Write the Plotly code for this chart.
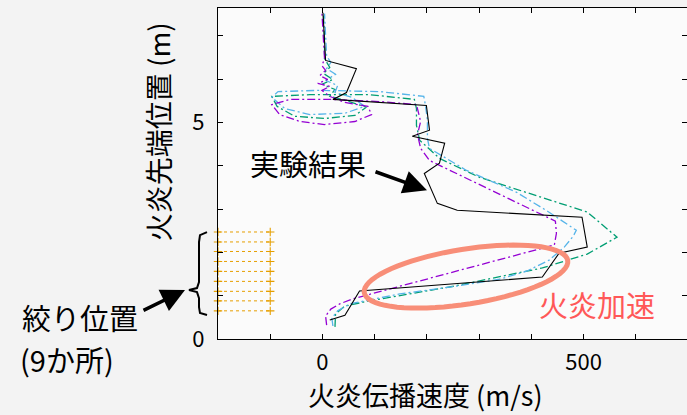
import numpy as np
import plotly.graph_objects as go

# ---------------- data (velocity m/s, position m) ----------------
exp_v = [1, 6, 65, 46, 20, 199, 205, 172, 234, 224, 195, 220, 258, 497, 507, 453, 421, 71, 43, 14]
exp_y = [7.53, 6.43, 6.24, 5.69, 5.53, 5.39, 4.82, 4.68, 4.52, 4.06, 3.82, 3.13, 2.97, 2.81, 2.12, 1.98, 1.43, 1.11, 0.55, 0.44]

purple_v = [8, 6, 16, 33, 56, 444, 448, 446, 205, 188, 182, 188, 180, 110, 14, -62, -97, -82, -43, 4, 62, 94, 87, 43,
            14, -1, 14, -9, 10, -5, 6, -1, 4, 2, 1, -1]
purple_y = [0.32, 0.53, 0.69, 0.81, 0.92, 2.17, 2.44, 2.72, 4.12, 4.40, 4.72, 5.02, 5.41, 5.48, 5.53, 5.53, 5.41, 5.18,
            5.02, 4.95, 5.02, 5.18, 5.37, 5.46, 5.60, 5.74, 5.83, 5.90, 5.99, 6.08, 6.20, 6.31, 6.47, 6.89, 7.35, 7.53]

blue_v = [20, 18, 29, 52, 148, 257, 339, 392, 434, 463, 480, 486, 431, 371, 276, 224, 205, 201, 201, 197, 194, 110, -5,
          -85, -97, -72, -24, 43, 81, 56, 24, 29, 6, 25, 8, 16, 8, 6, 4]
blue_y = [0.30, 0.48, 0.65, 0.81, 1.04, 1.22, 1.38, 1.57, 1.82, 2.12, 2.37, 2.51, 2.95, 3.39, 3.89, 4.26, 4.40, 4.63,
          5.05, 5.41, 5.60, 5.71, 5.74, 5.71, 5.58, 5.32, 5.18, 5.21, 5.37, 5.58, 5.69, 5.85, 5.97, 6.11, 6.24, 6.38,
          6.54, 7.00, 7.51]

green_v = [24, 25, 43, 90, 243, 421, 507, 564, 507, 415, 301, 224, 186, 180, 180, 176, 90, -24, -97, -87, -53, 4, 62,
           84, 43, 14, 24, -1, 20, 2, 14, 4, 4, 2]
green_y = [0.28, 0.58, 0.76, 0.88, 1.20, 1.64, 1.96, 2.35, 2.93, 3.29, 3.73, 4.17, 4.59, 4.93, 5.32, 5.53, 5.64, 5.64,
           5.60, 5.37, 5.14, 5.09, 5.16, 5.35, 5.51, 5.60, 5.76, 5.88, 5.99, 6.13, 6.27, 6.47, 6.89, 7.46]

# throttle (orifice) positions, 9 places
orifice_y = [0.65, 0.88, 1.10, 1.33, 1.56, 1.79, 2.02, 2.24, 2.47]
orifice_v = [-200, -100]

x_ticks = [-200, -100, 0, 100, 200, 300, 400, 500, 600, 700]
x_labels = ["", "", "0", "", "", "", "", "500", "", ""]
y_ticks = [0, 1, 2, 3, 4, 5, 6, 7]
y_labels = ["0", "", "", "", "", "5", "", ""]

# ---------------- layout geometry ----------------
WIDTH, HEIGHT = 687, 415
L, R, T, B = 218, 0, 7.5, 76
PW = WIDTH - L - R
PH = HEIGHT - T - B
FONT = "Noto Sans CJK JP, Noto Sans, sans-serif"


def paper(px, py):
    return (px - L) / PW, (HEIGHT - B - py) / PH


fig = go.Figure()

# orifice lines
ox, oy = [], []
for yy in orifice_y:
    ox += orifice_v + [None]
    oy += [yy, yy, None]
fig.add_trace(go.Scatter(x=ox, y=oy, mode="lines+markers",
                         line=dict(color="#E69F00", width=1, dash="3px,3px"),
                         marker=dict(symbol="cross-thin", size=6, line=dict(color="#E69F00", width=1.1)),
                         showlegend=False, cliponaxis=False))

dd = "8px,3px,2px,3px"
fig.add_trace(go.Scatter(x=green_v, y=green_y, mode="lines",
                         line=dict(color="#009E73", width=1.3, dash=dd), showlegend=False))
fig.add_trace(go.Scatter(x=blue_v, y=blue_y, mode="lines",
                         line=dict(color="#56B4E9", width=1.3, dash=dd), showlegend=False))
fig.add_trace(go.Scatter(x=purple_v, y=purple_y, mode="lines",
                         line=dict(color="#9400D3", width=1.3, dash=dd), showlegend=False))
fig.add_trace(go.Scatter(x=exp_v, y=exp_y, mode="lines",
                         line=dict(color="#000000", width=1.1), showlegend=False))

shapes = []
# highlighted ellipse (flame acceleration)
cx, cy, a, b, ang = 466, 276.5, 103, 27.5, np.deg2rad(9)
t = np.linspace(0, 2 * np.pi, 73)
ex = cx + a * np.cos(t) * np.cos(ang) + b * np.sin(t) * np.sin(ang)
ey = cy - a * np.cos(t) * np.sin(ang) + b * np.sin(t) * np.cos(ang)
pts = [paper(px, py) for px, py in zip(ex, ey)]
path = "M " + " L ".join(f"{p[0]:.5f},{p[1]:.5f}" for p in pts) + " Z"
shapes.append(dict(type="path", xref="paper", yref="paper", path=path,
                   line=dict(color="#F88E78", width=5)))

# brace
bp = [(207, 232), (200, 235), (199, 242), (199, 282), (197, 288), (189, 290), (197, 292), (199, 298),
      (199, 307), (200, 313), (207, 315)]
bpp = [paper(px, py) for px, py in bp]
shapes.append(dict(type="path", xref="paper", yref="paper",
                   path="M " + " L ".join(f"{p[0]:.5f},{p[1]:.5f}" for p in bpp),
                   line=dict(color="#000000", width=2)))

ann = []


def text(px, py, s, size, color="#000000", xanchor="center", angle=0):
    x, y = paper(px, py)
    ann.append(dict(x=x, y=y, xref="paper", yref="paper", text=s, showarrow=False,
                    xanchor=xanchor, yanchor="middle", textangle=angle,
                    font=dict(family=FONT, size=size, color=color)))


def arrow(tip, tail):
    x, y = paper(*tip)
    ann.append(dict(x=x, y=y, xref="paper", yref="paper", text="", showarrow=True,
                    ax=tail[0] - tip[0], ay=tail[1] - tip[1], axref="pixel", ayref="pixel",
                    arrowhead=2, arrowsize=1.35, arrowwidth=3.5, arrowcolor="#000000"))


text(425, 395, "火炎伝播速度 (m/s)", 27)
text(158, 132, "火炎先端位置 (m)", 28, angle=-90)
text(308, 163, "実験結果", 29)
text(20, 317, "絞り位置", 29, xanchor="left")
text(18, 359, "(9か所)", 29, xanchor="left")
text(597, 304, "火炎加速", 29, color="#FF5858")
arrow((427, 190), (374, 171))
arrow((185, 290), (142, 311))

fig.update_layout(
    width=WIDTH, height=HEIGHT,
    margin=dict(l=L, r=R, t=T, b=B),
    paper_bgcolor="#F3F3F3", plot_bgcolor="#FBFBFB",
    shapes=shapes, annotations=ann,
    showlegend=False,
)
fig.update_xaxes(range=[-200, 698], tickvals=x_ticks, ticktext=x_labels, ticks="inside", ticklen=5,
                 tickcolor="#000", showline=True, linecolor="#000", linewidth=1.2, mirror="ticks",
                 showgrid=False, zeroline=False, ticklabelstandoff=3,
                 tickfont=dict(family=FONT, size=22, color="#000"))
fig.update_yaxes(range=[0, 7.64], tickvals=y_ticks, ticktext=y_labels, ticks="inside", ticklen=5,
                 tickcolor="#000", showline=True, linecolor="#000", linewidth=1.2, mirror="ticks",
                 showgrid=False, zeroline=False, ticklabelstandoff=8,
                 tickfont=dict(family=FONT, size=22, color="#000"))

fig.write_html("out.html", config={"displayModeBar": False},
               post_script="document.body.style.margin='0';document.body.style.padding='0';"
                           "document.body.style.overflow='hidden';")
